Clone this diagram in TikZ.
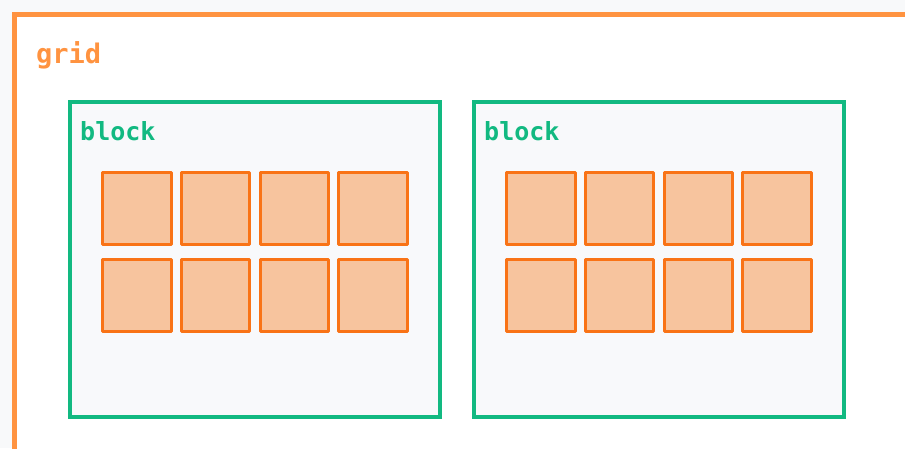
\documentclass[tikz,border=0pt]{standalone}
\usepackage{fontspec}
\setmonofont{DejaVu Sans Mono}
\definecolor{pagebg}{HTML}{F8F9FA}
\definecolor{gridorange}{HTML}{FF9340}
\definecolor{blockgreen}{HTML}{12B981}
\definecolor{blockfill}{HTML}{F8F9FB}
\definecolor{cellstroke}{HTML}{F97316}
\definecolor{cellfill}{HTML}{F7C49E}
\tikzset{
  gridframe/.style={draw=gridorange, line width=5pt, fill=white},
  blockbox/.style={draw=blockgreen, line width=4pt, fill=blockfill},
  cellbox/.style={draw=cellstroke, line width=3pt, fill=cellfill, line join=round},
  gridlabel/.style={font=\ttfamily\bfseries\fontsize{27}{30}\selectfont, text=gridorange, anchor=base west, inner sep=0pt},
  blocklabel/.style={font=\ttfamily\bfseries\fontsize{25}{28}\selectfont, text=blockgreen, anchor=base west, inner sep=0pt},
}
\begin{document}
\begin{tikzpicture}[x=1pt,y=-1pt]
\useasboundingbox (0,0) rectangle (905,448);
\fill[pagebg] (0,0) rectangle (905,448);
\clip (0,0) rectangle (905,448);
\draw[gridframe] (14.5,14) rectangle (930,470);
\node[gridlabel] (gridtxt) at (36,63) {grid};
\foreach \bx/\bn in {0/a,404/b}{
  \draw[blockbox] (70+\bx,102) rectangle (440+\bx,417);
  \node[blocklabel] (lbl\bn) at (80+\bx,140) {block};
  \foreach \i in {0,1,2,3}{
    \foreach \r/\ya/\yb in {0/172.5/244.5,1/259.5/331.5}{
      \draw[cellbox] ({102.5+\bx+78.8*\i},\ya) rectangle ({171+\bx+78.8*\i},\yb);
    }
  }
}
\end{tikzpicture}
\end{document}
